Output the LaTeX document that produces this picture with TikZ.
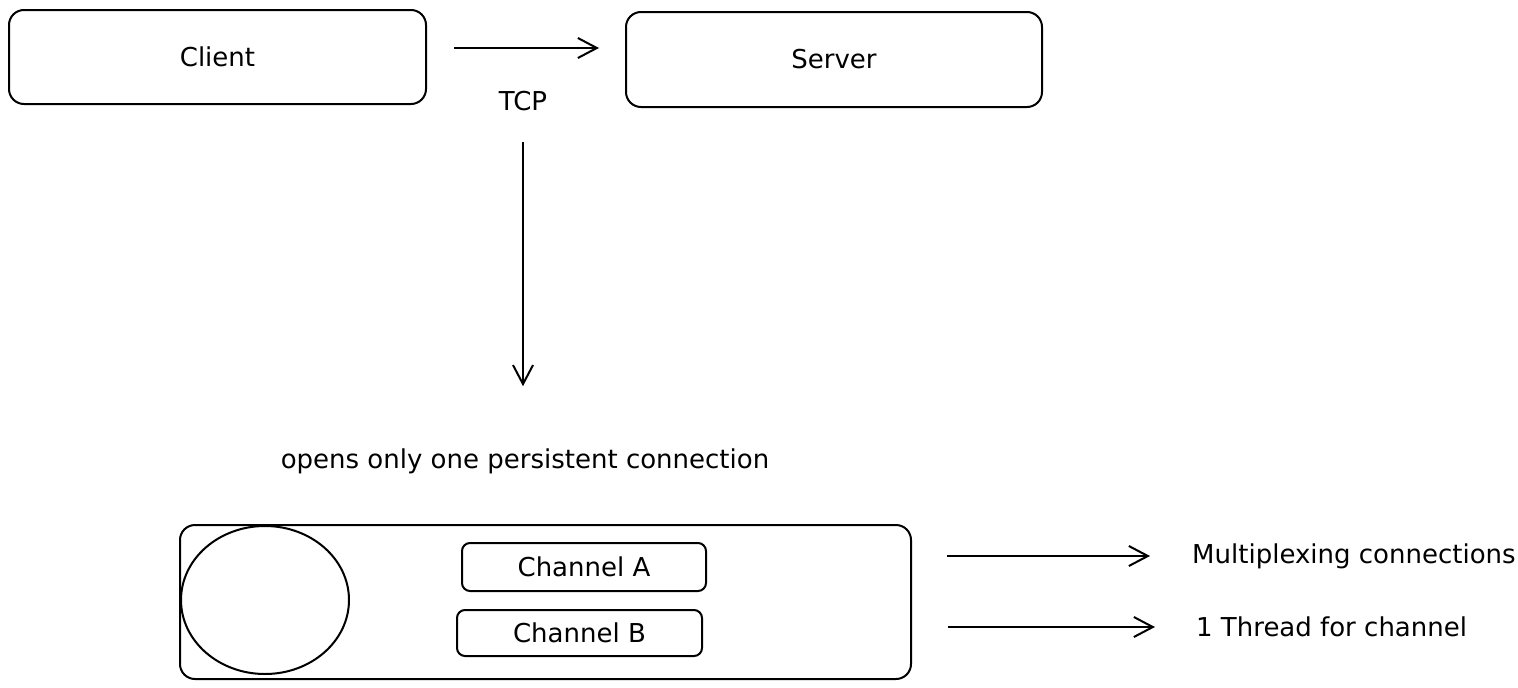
\documentclass[tikz,border=0pt]{standalone}
\usepackage{fontspec}
\setmainfont{DejaVu Sans}
\usetikzlibrary{arrows.meta,shapes.geometric}

\tikzset{
  box/.style={draw, line width=2pt, rounded corners=15pt},
  chan/.style={draw, line width=2pt, rounded corners=8pt},
  txt/.style={inner sep=0pt, font=\fontsize{26}{30}\selectfont},
  arr/.style={line width=2pt, -{Straight Barb[length=19pt,width=20pt]}}
}

\begin{document}
\begin{tikzpicture}[x=1pt, y=-1pt]
\useasboundingbox (0,0) rectangle (1518,688);
% top row
\node[box, minimum width=417pt, minimum height=94pt, txt] (client) at (217.5,57) {Client};
\node[box, minimum width=416pt, minimum height=95pt, txt] (server) at (834,59.5) {Server};
\draw[arr, shorten <=27pt, shorten >=26pt] ([yshift=9pt]client.east) -- ([yshift=11.5pt]server.west);
\node[txt] (tcp) at (523,101) {TCP};
\node[txt] (opens) at (525,461) {opens only one persistent connection};
\draw[arr, shorten <=31pt, shorten >=62pt] (tcp.south) -- (tcp.south |- opens.north);
% the one connection
\node[box, minimum width=731pt, minimum height=154pt] (conn) at (545.5,602) {};
\node[draw, ellipse, line width=2pt, minimum width=168pt, minimum height=148pt] (sock) at (265,600) {};
\node[chan, minimum width=244pt, minimum height=48pt, txt] (chA) at (584,567) {Channel A};
\node[chan, minimum width=245pt, minimum height=46pt, txt] (chB) at (579.5,633) {Channel B};
% notes
\node[txt, anchor=west] (mux) at (1192,556) {Multiplexing connections};
\node[txt, anchor=west] (thread) at (1196,627) {1 Thread for channel};
\draw[arr] ([xshift=35pt]conn.east |- mux.west) -- ([xshift=-42pt]mux.west);
\draw[arr] ([xshift=36pt]conn.east |- thread.west) -- ([xshift=-41pt]thread.west);
\end{tikzpicture}
\end{document}
